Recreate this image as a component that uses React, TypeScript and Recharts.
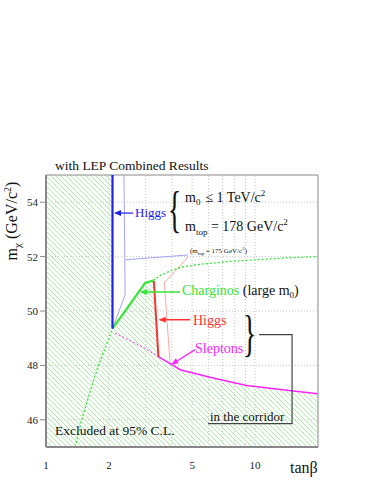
import React from 'react';
import { ComposedChart, Area, Line, XAxis, YAxis, ReferenceLine, ReferenceArea } from 'recharts';

// axes
const xTicks = [1, 2, 5, 10];
const yTicks = [46, 48, 50, 52, 54];
const gridX = [2, 3, 4, 5, 6, 7, 8, 9, 10];
const gridY = [46, 48, 50, 52, 54];

// excluded region (upper boundary, filled down to 45)
const excluded = [
  { x: 1, y: 55 }, { x: 2.08, y: 55 }, { x: 2.08, y: 49.35 }, { x: 2.98, y: 51.03 },
  { x: 3.26, y: 51.12 }, { x: 3.45, y: 48.31 }, { x: 4.0, y: 48.03 }, { x: 4.38, y: 47.84 },
  { x: 6.29, y: 47.54 }, { x: 9.12, y: 47.26 }, { x: 13.2, y: 47.11 }, { x: 20, y: 46.96 },
];

const higgsBlue = [{ x: 2.08, y: 55 }, { x: 2.08, y: 49.35 }];
const higgsBlue175 = [{ x: 2.36, y: 55 }, { x: 2.39, y: 50.6 }, { x: 2.08, y: 49.35 }];
const charginoSolid = [{ x: 2.08, y: 49.35 }, { x: 2.98, y: 51.03 }, { x: 3.26, y: 51.12 }];
const charginoHigh = [
  { x: 3.26, y: 51.12 }, { x: 3.5, y: 51.3 }, { x: 4, y: 51.5 }, { x: 4.5, y: 51.62 },
  { x: 5.5, y: 51.72 }, { x: 7.5, y: 51.82 }, { x: 10, y: 51.88 }, { x: 14, y: 51.95 }, { x: 20, y: 52.0 },
];
const charginoLow = [
  { x: 1.38, y: 45 }, { x: 1.48, y: 46 }, { x: 1.62, y: 47 }, { x: 1.78, y: 48 },
  { x: 1.93, y: 48.7 }, { x: 2.08, y: 49.35 },
];
const higgsRed = [{ x: 3.28, y: 51.1 }, { x: 3.45, y: 48.31 }];
const higgsRed175 = [{ x: 3.68, y: 51.08 }, { x: 3.92, y: 48.09 }];
const sleptonSolid = [
  { x: 3.45, y: 48.31 }, { x: 4.0, y: 48.03 }, { x: 4.38, y: 47.84 }, { x: 6.29, y: 47.54 },
  { x: 9.12, y: 47.26 }, { x: 13.2, y: 47.11 }, { x: 20, y: 46.96 },
];
const sleptonDashed = [{ x: 2.14, y: 49.19 }, { x: 2.92, y: 48.66 }, { x: 3.99, y: 48.03 }];

// pointers and arrows
const bluePointer = [{ x: 4.78, y: 52.06 }, { x: 2.39, y: 51.88 }];
const pinkPointer = [{ x: 4.8, y: 52.0 }, { x: 3.7, y: 51.05 }];
const higgsBlueArrow = [{ x: 2.61, y: 53.6 }, { x: 2.14, y: 53.6 }];
const charginoArrow = [{ x: 4.38, y: 50.7 }, { x: 2.85, y: 50.7 }];
const higgsRedArrow = [{ x: 4.89, y: 49.68 }, { x: 3.5, y: 49.68 }];
const sleptonArrow = [{ x: 5.16, y: 48.58 }, { x: 4.02, y: 48.05 }];
const corridor = [{ x: 10.45, y: 49.13 }, { x: 15.03, y: 49.13 }, { x: 15.03, y: 45.86 }, { x: 5.96, y: 45.86 }];

const GREEN = '#33e633';
const BLUE = '#2020ee';
const RED = '#ff3030';
const MAGENTA = '#ff22ff';
const serif = 'Liberation Serif, serif';

const marker = (id: string, color: string) => (
  <marker id={id} markerWidth={7} markerHeight={6} refX={6} refY={3} orient="auto" markerUnits="userSpaceOnUse">
    <path d="M0,0 L7,3 L0,6 z" fill={color} />
  </marker>
);

const seg = (data: any[], stroke: string, width: number, extra: any = {}) => (
  <Line
    data={data}
    dataKey="y"
    type="linear"
    stroke={stroke}
    strokeWidth={width}
    dot={false}
    activeDot={false}
    isAnimationActive={false}
    {...extra}
  />
);

const Overlay = () => (
  <svg width={382} height={494} style={{ position: 'absolute', left: 0, top: 0, pointerEvents: 'none' }} fontFamily={serif}>
    <text x={55} y={170} fontSize={13.5} fill="#111">with LEP Combined Results</text>
    <text transform="translate(17,221) rotate(-90)" textAnchor="middle" fontSize={16} fill="#111">
      m<tspan fontSize={11} dy={4}>χ</tspan><tspan dy={-4}> (GeV/c</tspan><tspan fontSize={10} dy={-6}>2</tspan><tspan dy={6}>)</tspan>
    </text>
    <text x={135} y={217} fontSize={13} fill={BLUE}>Higgs</text>
    <text transform="translate(168,226) scale(0.55,1)" fontSize={50} fill="#111">{'{'}</text>
    <text x={185} y={202} fontSize={14} fill="#111">
      m<tspan fontSize={9} dy={3}>0</tspan><tspan dy={-3} dx={5}>≤ 1 TeV/c</tspan><tspan fontSize={9} dy={-6}>2</tspan>
    </text>
    <text x={185} y={231} fontSize={14} fill="#111">
      m<tspan fontSize={9} dy={4}>top</tspan><tspan dy={-4}> = 178 GeV/c</tspan><tspan fontSize={9} dy={-6}>2</tspan>
    </text>
    <text x={190} y={253} fontSize={7} fill="#111">
      (m<tspan fontSize={5} dy={2}>top</tspan><tspan dy={-2}> = 175 GeV/c</tspan><tspan fontSize={5} dy={-3}>2</tspan><tspan dy={3}>)</tspan>
    </text>
    <text x={182} y={295} fontSize={14} fill={GREEN}>
      Charginos <tspan fill="#111">(large m</tspan><tspan fill="#111" fontSize={9} dy={3}>0</tspan><tspan fill="#111" dy={-3}>)</tspan>
    </text>
    <text x={193} y={325} fontSize={14} fill={RED}>Higgs</text>
    <text x={195} y={353} fontSize={14} fill={MAGENTA}>Sleptons</text>
    <text transform="translate(243,350) scale(0.55,1)" fontSize={50} fill="#111">{'}'}</text>
    <text x={210} y={421} fontSize={13} fill="#111">in the corridor</text>
    <text x={55} y={435} fontSize={13.5} fill="#111">Excluded at 95% C.L.</text>
    <text x={290} y={473} fontSize={16} fill="#111">tanβ</text>
  </svg>
);

export default function App() {
  return (
    <div style={{ position: 'absolute', left: 0, top: 0, width: 382, height: 494, background: '#fff' }}>
      <ComposedChart width={382} height={494} margin={{ top: 175, right: 64, bottom: 17, left: 16 }}>
        <defs>
          <pattern id="hatch" patternUnits="userSpaceOnUse" width={5} height={5}>
            <path d="M0,0 L5,5 M-1,4 L1,6 M4,-1 L6,1" stroke="#7ee87e" strokeWidth={0.65} />
          </pattern>
          {marker('arBlue', BLUE)}
          {marker('arGreen', GREEN)}
          {marker('arRed', RED)}
          {marker('arMag', MAGENTA)}
        </defs>
        <XAxis
          dataKey="x"
          type="number"
          scale="log"
          domain={[1, 20]}
          ticks={xTicks}
          allowDataOverflow
          height={30}
          tickSize={5}
          tickMargin={9}
          tickLine={false}
          axisLine={{ stroke: '#888', strokeWidth: 2 }}
          tick={{ fontSize: 11, fill: '#222', fontFamily: serif }}
        />
        <YAxis
          type="number"
          domain={[45, 55]}
          ticks={yTicks}
          allowDataOverflow
          width={30}
          tickSize={6}
          tickMargin={2}
          tickLine={{ stroke: '#888' }}
          axisLine={{ stroke: '#888', strokeWidth: 2 }}
          tick={{ fontSize: 11, fill: '#222', fontFamily: serif }}
        />
        <Area
          data={excluded}
          dataKey="y"
          type="linear"
          baseValue={45}
          stroke="none"
          fill="url(#hatch)"
          fillOpacity={1}
          isAnimationActive={false}
          dot={false}
          activeDot={false}
        />
        {gridX.map(v => (
          <ReferenceLine key={'gx' + v} x={v} stroke="#c4c4c4" strokeDasharray="1 2" />
        ))}
        {gridY.map(v => (
          <ReferenceLine key={'gy' + v} y={v} stroke="#c4c4c4" strokeDasharray="1 2" />
        ))}
        <ReferenceArea x1={1} x2={20} y1={45} y2={55} fill="none" stroke="#888" strokeWidth={1} />
        {seg(higgsBlue175, '#a4a4f5', 1)}
        {seg(bluePointer, '#a4a4f5', 1)}
        {seg(higgsRed175, '#ffa8a8', 1)}
        {seg(pinkPointer, '#ffa8a8', 1)}
        {seg(charginoLow, GREEN, 1.3, { strokeDasharray: '2 2' })}
        {seg(charginoHigh, GREEN, 1.3, { strokeDasharray: '2 2' })}
        {seg(sleptonDashed, MAGENTA, 1, { strokeDasharray: '2 2' })}
        {seg(sleptonSolid, MAGENTA, 1.5)}
        {seg(charginoSolid, GREEN, 2.2)}
        {seg(higgsRed, RED, 2)}
        {seg(higgsBlue, BLUE, 2.2)}
        {seg(higgsBlueArrow, BLUE, 1.2, { markerEnd: 'url(#arBlue)' })}
        {seg(charginoArrow, GREEN, 1.5, { markerEnd: 'url(#arGreen)' })}
        {seg(higgsRedArrow, RED, 1.5, { markerEnd: 'url(#arRed)' })}
        {seg(sleptonArrow, MAGENTA, 1.2, { markerEnd: 'url(#arMag)' })}
        {seg(corridor, '#444', 1.2)}
      </ComposedChart>
      <Overlay />
    </div>
  );
}
